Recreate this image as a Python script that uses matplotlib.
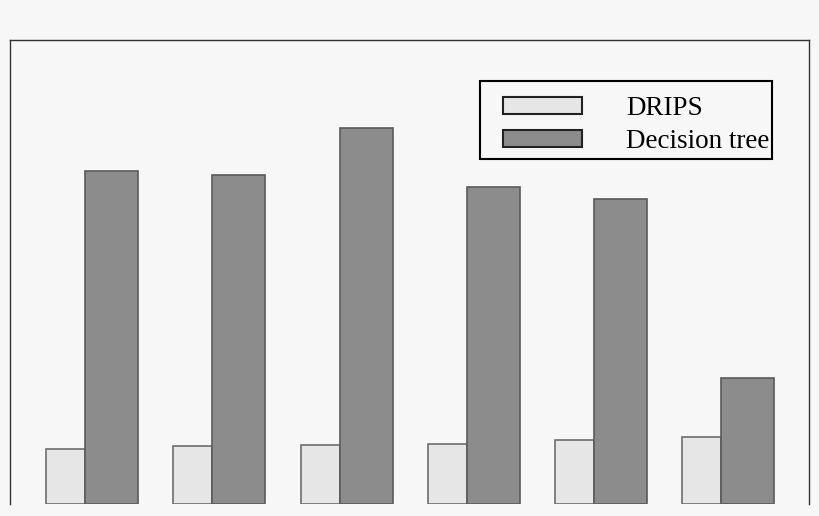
import matplotlib
matplotlib.use("Agg")
import matplotlib.pyplot as plt
from matplotlib.patches import Rectangle
import numpy as np

categories = ["1", "2", "3", "4", "5", "6"]
drips = [55, 58, 59, 60, 64, 67]
decision_tree = [333, 329, 376, 317, 305, 126]
labels = ["DRIPS", "Decision tree"]

W, H = 820, 516
fig = plt.figure(figsize=(W / 100, H / 100), dpi=100, facecolor="#f7f7f7")
ax = fig.add_axes([10 / W, (H - 504) / H, 799 / W, 464 / H])
ax.set_facecolor("#f7f7f7")

unit = 127.3
x = np.arange(len(categories))
w1 = 39 / unit
w2 = 53 / unit
ax.bar(x, drips, width=w1, align="edge", color="#e6e6e6", edgecolor="#6e6e6e",
       linewidth=1.2, label=labels[0], zorder=2)
ax.bar(x + w1, decision_tree, width=w2, align="edge", color="#8c8c8c", edgecolor="#5a5a5a",
       linewidth=1.2, label=labels[1], zorder=2)

ax.set_xlim(-36 / unit, 763 / unit)
ax.set_ylim(0, 464)
ax.set_xticks([])
ax.set_yticks([])
for s in ["top", "left", "right"]:
    ax.spines[s].set_color("#333333")
    ax.spines[s].set_linewidth(1.0)
ax.spines["bottom"].set_visible(False)

fsize = 19.5
fs_px = fsize * 100 / 72
leg = ax.legend(loc="upper left", bbox_to_anchor=(502.7 / W, 1 - 96 / H),
                bbox_transform=fig.transFigure,
                prop={"family": "Liberation Serif", "size": fsize},
                frameon=False, handlelength=79.3 / fs_px, handleheight=16 / fs_px,
                handletextpad=44.5 / fs_px, borderpad=0, labelspacing=8.5 / fs_px,
                borderaxespad=0)
for h in leg.legend_handles:
    h.set_edgecolor("#222222")
    h.set_linewidth(1.5)

fig.add_artist(Rectangle((480.5 / W, 1 - 158.5 / H), 291.5 / W, 78 / H,
                         transform=fig.transFigure, fill=False,
                         edgecolor="black", linewidth=1.5))

fig.savefig("out.png", dpi=100, facecolor=fig.get_facecolor())
